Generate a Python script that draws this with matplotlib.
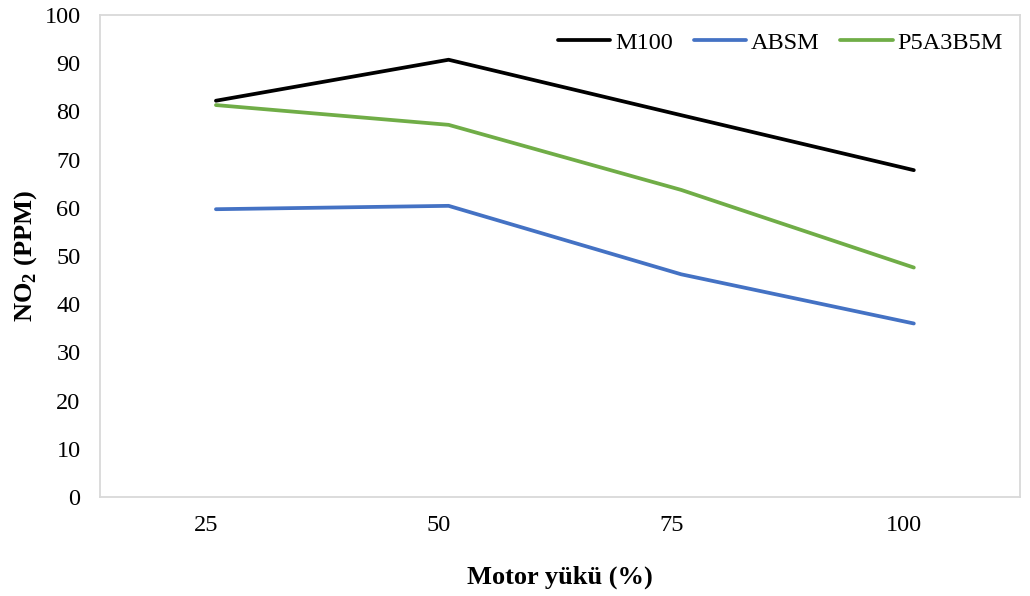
import matplotlib
matplotlib.use("Agg")
import matplotlib.pyplot as plt
import matplotlib.transforms as mtransforms

# Engine load (%) and NO2 emissions (ppm) per fuel
load = [25, 50, 75, 100]
load_labels = ["25", "50", "75", "100"]
m100 = [82.2, 90.7, 79.2, 67.8]
absm = [59.7, 60.4, 46.2, 36.0]
p5a3b5m = [81.3, 77.2, 63.7, 47.6]

series = [("M100", m100, "#000000"),
          ("ABSM", absm, "#4472C4"),
          ("P5A3B5M", p5a3b5m, "#70AD47")]

plt.rcParams["font.family"] = ["Liberation Serif", "DejaVu Serif"]
plt.rcParams["mathtext.fontset"] = "custom"
plt.rcParams["mathtext.rm"] = "Liberation Serif"
plt.rcParams["mathtext.bf"] = "Liberation Serif:bold"

fig = plt.figure(figsize=(10.30, 5.96), dpi=100)
ax = fig.add_axes([0.0971, 0.166, 0.893, 0.809])

for name, vals, col in series:
    ax.plot(load, vals, color=col, lw=2.7, label=name,
            solid_capstyle="round", solid_joinstyle="round")

ax.set_ylim(0, 100)
ax.set_yticks(range(0, 101, 10))
ax.set_xlim(12.54, 111.39)
ax.set_xticks(load)
ax.set_xticklabels(load_labels)

for s in ax.spines.values():
    s.set_color("#d9d9d9")
    s.set_linewidth(1.3)

ax.tick_params(axis="both", length=0, labelsize=17.5, colors="black")
ax.tick_params(axis="y", pad=14)
ax.tick_params(axis="x", pad=13)

shift = mtransforms.ScaledTranslation(-0.10, 0, fig.dpi_scale_trans)
for lbl in ax.get_xticklabels():
    lbl.set_transform(lbl.get_transform() + shift)

ax.set_xlabel("Motor yükü (%)", fontsize=19, fontweight="bold", labelpad=21)
ax.set_ylabel(r"NO$_{\mathbf{2}}$ (PPM)", fontsize=19, fontweight="bold", labelpad=4)

ax.legend(loc="upper right", ncol=3, frameon=False, fontsize=17.5,
          handlelength=2.15, handletextpad=0.2, columnspacing=0.85,
          bbox_to_anchor=(1.0, 1.0), borderaxespad=0.3)

fig.savefig("out.png", dpi=100, facecolor="white")
